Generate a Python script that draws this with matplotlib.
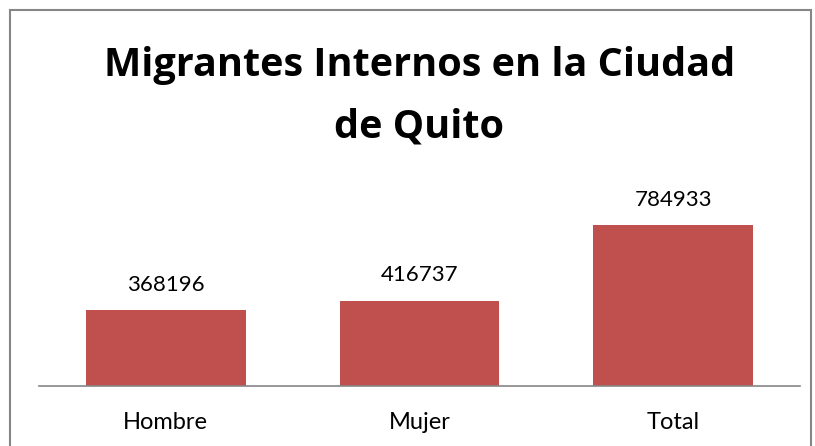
import matplotlib
matplotlib.use("Agg")
import matplotlib.pyplot as plt
from matplotlib.patches import Rectangle

categories = ["Hombre", "Mujer", "Total"]
values = [368196, 416737, 784933]
title_lines = ["Migrantes Internos en la Ciudad", "de Quito"]

W, H, DPI = 815, 446, 100
fig = plt.figure(figsize=(W / DPI, H / DPI), dpi=DPI)
fig.patch.set_facecolor("white")

# chart-area frame (bottom edge runs off the canvas)
fig.patches.append(Rectangle((10 / W, -0.05), (811 - 10) / W, 1.05 - 10 / H,
                             transform=fig.transFigure, fill=False,
                             edgecolor="#868686", linewidth=1.5))

left, right, base, top = 39, 800, 386, 201.4
ax = fig.add_axes([left / W, (H - base) / H, (right - left) / W, (base - top) / H])
ax.set_xlim(-0.5, len(categories) - 0.5)
ax.set_ylim(0, 900000)

bars = ax.bar(range(len(categories)), values, width=0.63, color="#C0504D")
for b, v in zip(bars, values):
    ax.annotate(str(v), (b.get_x() + b.get_width() / 2, v), xytext=(0, 11),
                textcoords="offset points", ha="center", va="bottom",
                fontsize=16, family="Lato", color="black")

for s in ["left", "right", "top"]:
    ax.spines[s].set_visible(False)
ax.spines["bottom"].set_color("#868686")
ax.spines["bottom"].set_linewidth(1.2)
ax.set_yticks([])
ax.set_xticks(range(len(categories)))
ax.set_xticklabels(categories, fontsize=17, family="Lato")
ax.tick_params(axis="x", length=0, pad=19)

cx = (left + right) / 2 / W
fig.text(cx, 1 - 76 / H, title_lines[0], ha="center", va="baseline",
         fontsize=28.5, fontweight="bold", family="Open Sans")
fig.text(cx, 1 - 137 / H, title_lines[1], ha="center", va="baseline",
         fontsize=28.5, fontweight="bold", family="Open Sans")

fig.savefig("out.png", dpi=DPI)
